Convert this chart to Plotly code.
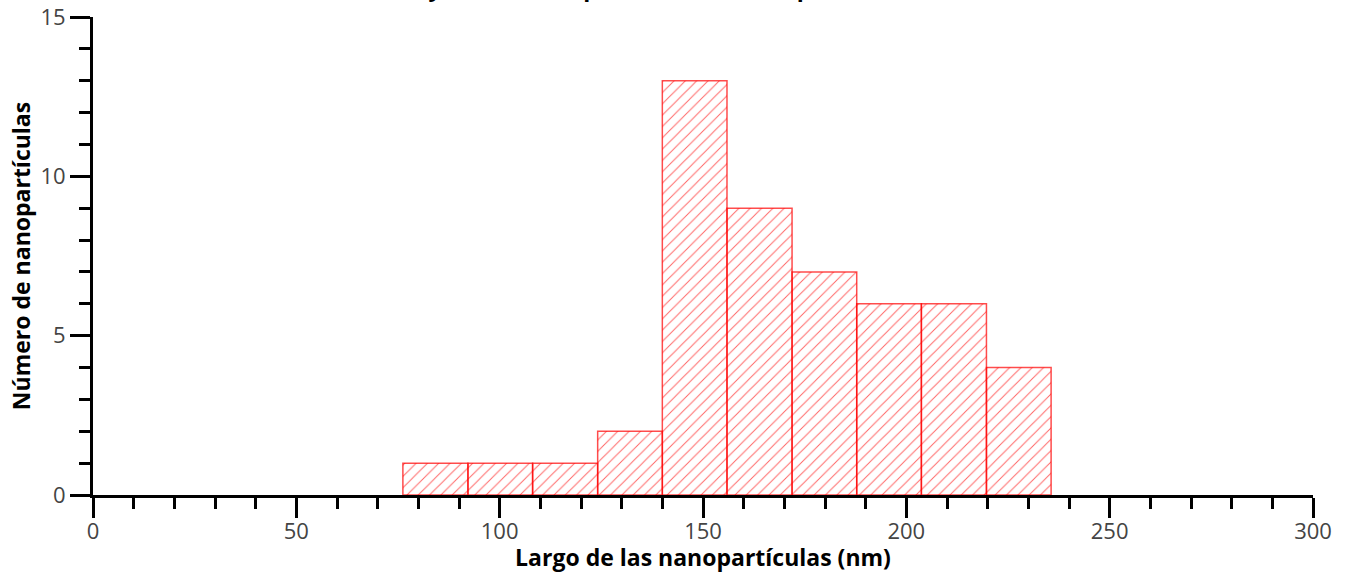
import plotly.graph_objects as go

# Histogram data
bin_edges = [76.2, 92.2, 108.1, 124.1, 140.0, 155.9, 171.9, 187.8, 203.7, 219.7, 235.6]
counts = [1, 1, 1, 2, 13, 9, 7, 6, 6, 4]

x_ticks = [0, 50, 100, 150, 200, 250, 300]
y_ticks = [0, 5, 10, 15]

title_text = "Distribución del tamaño y anchura de partículas de nanoplata"
x_title = "Largo de las nanopartículas (nm)"
y_title = "Número de nanopartículas"

centers = [(a + b) / 2 for a, b in zip(bin_edges[:-1], bin_edges[1:])]
widths = [b - a for a, b in zip(bin_edges[:-1], bin_edges[1:])]

fig = go.Figure()
fig.add_trace(go.Bar(
    x=centers, y=counts, width=widths,
    marker=dict(
        color="rgba(0,0,0,0)",
        line=dict(color="rgba(255,0,0,0.7)", width=1.5),
        pattern=dict(shape="/", fgcolor="red", fgopacity=0.6, size=8, solidity=0.12, bgcolor="rgba(0,0,0,0)"),
    ),
    showlegend=False,
))

axis_common = dict(
    showgrid=False, zeroline=False, showline=True, linecolor="black", linewidth=3,
    ticks="outside", ticklen=20, tickwidth=3, tickcolor="black", automargin=False,
    tickfont=dict(family="Open Sans", size=22, color="#444"),
)

fig.add_annotation(
    text=title_text, xref="paper", yref="paper", x=0.334, y=1, yshift=12,
    xanchor="center", yanchor="bottom", showarrow=False,
    font=dict(family="Open Sans", size=23, color="black", weight="bold"),
)

fig.update_layout(
    width=1350, height=573,
    margin=dict(l=93, r=37, t=17, b=78, autoexpand=False),
    plot_bgcolor="white", paper_bgcolor="white",
    font=dict(family="Open Sans"),
    xaxis=dict(
        range=[0, 300], tickvals=x_ticks, **axis_common, ticklabelstandoff=-5,
        minor=dict(dtick=10, ticks="outside", ticklen=11, tickwidth=3, tickcolor="black"),
        title=dict(text=x_title, standoff=2,
                   font=dict(family="Open Sans", size=23, color="black", weight="bold")),
    ),
    yaxis=dict(
        range=[0, 15], tickvals=y_ticks, **axis_common,
        minor=dict(dtick=1, ticks="outside", ticklen=11, tickwidth=3, tickcolor="black"),
        title=dict(text=y_title, standoff=4,
                   font=dict(family="Open Sans", size=23, color="black", weight="bold")),
    ),
)

fig.write_html("out.html", config={"displayModeBar": False},
               post_script="document.body.style.margin='0';")
